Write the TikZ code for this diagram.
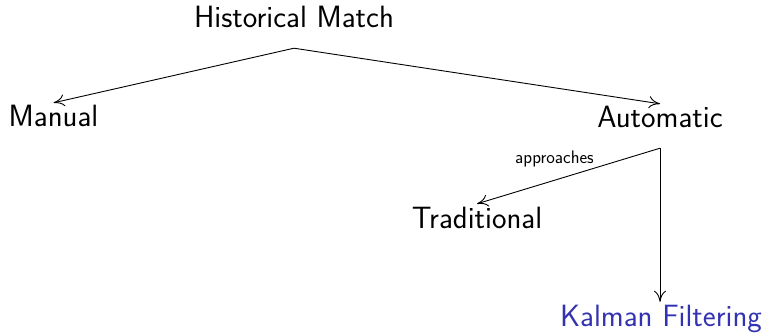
\documentclass[tikz,border=0pt]{standalone}
\usepackage{fontspec}
\usetikzlibrary{arrows.meta}
\definecolor{structblue}{rgb}{0.2,0.2,0.7}
\begin{document}
\begin{tikzpicture}[x=1pt,y=-1pt,
  treenode/.style={font=\sffamily\fontsize{30.8}{36}\selectfont, anchor=base,
    text height=19pt, text depth=15pt, inner xsep=2pt, inner ysep=5pt},
  edgelabel/.style={font=\sffamily\fontsize{18.2}{22}\selectfont, inner sep=1pt},
  branch/.style={draw=black, line width=0.9pt, -{To[length=11pt,width=12pt]}}]
  \useasboundingbox (0,0) rectangle (766,334);

  % nodes of the tree
  \node[treenode] (hm)   at (294,28)  {Historical Match};
  \node[treenode] (man)  at (53.5,127) {Manual};
  \node[treenode] (auto) at (660,128) {Automatic};
  \node[treenode] (trad) at (477,228) {Traditional};
  \node[treenode, text=structblue] (kf) at (661,326) {Kalman Filtering};

  % branches
  \draw[branch] (hm.south) -- (man.north);
  \draw[branch] (hm.south) -- (auto.north);
  \draw[branch] (auto.south) -- node[edgelabel, xshift=-14pt, yshift=17pt] {approaches} (trad.north);
  \draw[branch] (auto.south) -- (auto.south |- kf.north);
\end{tikzpicture}
\end{document}
